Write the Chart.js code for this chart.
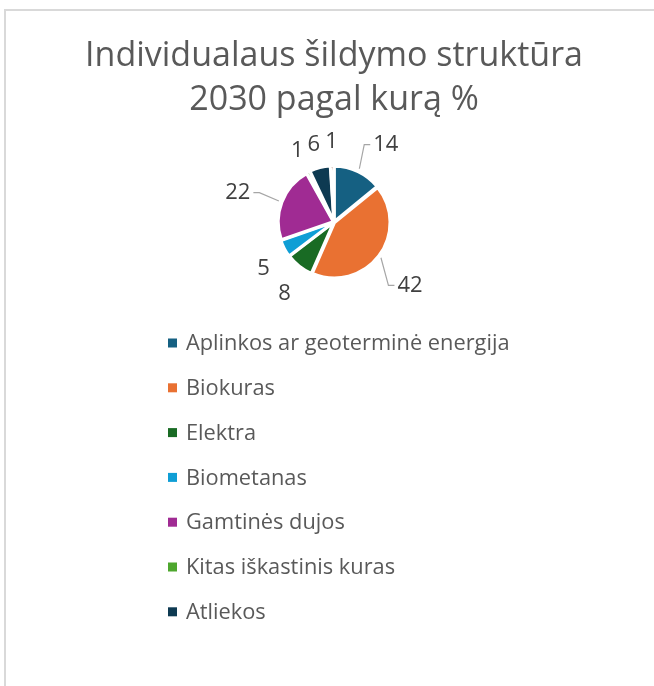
<!DOCTYPE html>
<html lang="lt">
<head>
  <meta charset="UTF-8">
  <title>Individualaus šildymo struktūra 2030</title>
  <script src="https://cdn.jsdelivr.net/npm/chart.js"></script>
  <style>
    body {
      margin: 0;
      background: #fff;
    }
    .wrap {
      position: relative;
      width: 654px;
      height: 686px;
      overflow: hidden;
    }
    canvas {
      position: absolute;
      left: 0;
      top: 0;
    }
    .frame {
      position: absolute;
      left: 4px;
      top: 9px;
      width: 700px;
      height: 700px;
      border: 2px solid #d9d9d9;
      pointer-events: none;
    }
  </style>
</head>
<body>
  <div class="wrap">
    <canvas id="pie" width="654" height="686"></canvas>
    <div class="frame"></div>
  </div>

  <script>
    // data (%), clockwise from 12 o'clock
    const labels = ['Aplinkos ar geoterminė energija', 'Biokuras', 'Elektra', 'Biometanas',
      'Gamtinės dujos', 'Kitas iškastinis kuras', 'Atliekos', ''];
    const values = [14, 42, 8, 5, 22, 1, 6, 1];
    const colors = ['#156082', '#E97132', '#196B24', '#0F9ED5', '#A02B93', '#4EA72E', '#0E3A52', '#8C3E16'];

    const FONT = '"Open Sans", "Liberation Sans", sans-serif';

    // value labels outside the slices, leader lines for the big ones
    const pieLabels = {
      id: 'pieLabels',
      afterDatasetsDraw(chart) {
        const ctx = chart.ctx;
        const meta = chart.getDatasetMeta(0);
        ctx.save();
        ctx.font = '22px ' + FONT;
        ctx.fillStyle = '#404040';
        ctx.textAlign = 'center';
        ctx.textBaseline = 'middle';
        meta.data.forEach((arc, i) => {
          const p = arc.getProps(['x', 'y', 'startAngle', 'endAngle', 'outerRadius'], true);
          const mid = (p.startAngle + p.endAngle) / 2;
          const cx = Math.cos(mid), cy = Math.sin(mid);
          const txt = String(values[i]);
          const far = values[i] >= 10;
          const side = cx >= 0 ? 1 : -1;
          let lx, ly;
          if (far) {
            lx = p.x + cx * (p.outerRadius + 33) + side * (cy < 0 ? 14 : 6);
            ly = p.y + cy * (p.outerRadius + 33) + (cy > 0 ? 10 : 2);
            const w = ctx.measureText(txt).width;
            const nearX = lx - side * (w / 2 + 3);
            const sx = p.x + cx * (p.outerRadius + 4);
            const sy = p.y + cy * (p.outerRadius + 4);
            ctx.strokeStyle = '#a6a6a6';
            ctx.lineWidth = 1.2;
            ctx.beginPath();
            ctx.moveTo(sx, sy);
            ctx.lineTo(nearX - side * 6, ly);
            ctx.lineTo(nearX, ly);
            ctx.stroke();
          } else {
            lx = p.x + cx * (p.outerRadius + 25);
            ly = p.y + cy * (p.outerRadius + 25) + (cy > 0 ? 9 : 0);
          }
          ctx.fillText(txt, lx, ly);
        });
        ctx.restore();
      }
    };

    // one legend item per row, left aligned under the pie
    const listLegend = {
      id: 'listLegend',
      afterDraw(chart) {
        const ctx = chart.ctx;
        ctx.save();
        ctx.font = '21.8px ' + FONT;
        ctx.textBaseline = 'middle';
        ctx.textAlign = 'left';
        let y = 343;
        labels.forEach((name, i) => {
          if (!name) return;
          ctx.fillStyle = colors[i];
          ctx.fillRect(168, y - 4.5, 9, 9);
          ctx.fillStyle = '#595959';
          ctx.fillText(name, 186, y + 1);
          y += 44.8;
        });
        ctx.restore();
      }
    };

    new Chart(document.getElementById('pie'), {
      type: 'pie',
      data: {
        labels: labels,
        datasets: [{
          data: values,
          backgroundColor: colors,
          borderColor: '#ffffff',
          borderWidth: 3,
          offset: 3,
          hoverOffset: 0
        }]
      },
      options: {
        responsive: false,
        animation: false,
        radius: 55,
        layout: {
          padding: { top: 9, left: 14, right: 0, bottom: 374 }
        },
        plugins: {
          legend: { display: false },
          tooltip: { enabled: false },
          title: {
            display: true,
            text: ['Individualaus šildymo struktūra', '2030 pagal kurą %'],
            color: '#595959',
            font: { family: FONT, size: 34, weight: 'normal', lineHeight: 1.28 },
            padding: { top: 26, bottom: 10 }
          }
        }
      },
      plugins: [pieLabels, listLegend]
    });
  </script>
</body>
</html>
